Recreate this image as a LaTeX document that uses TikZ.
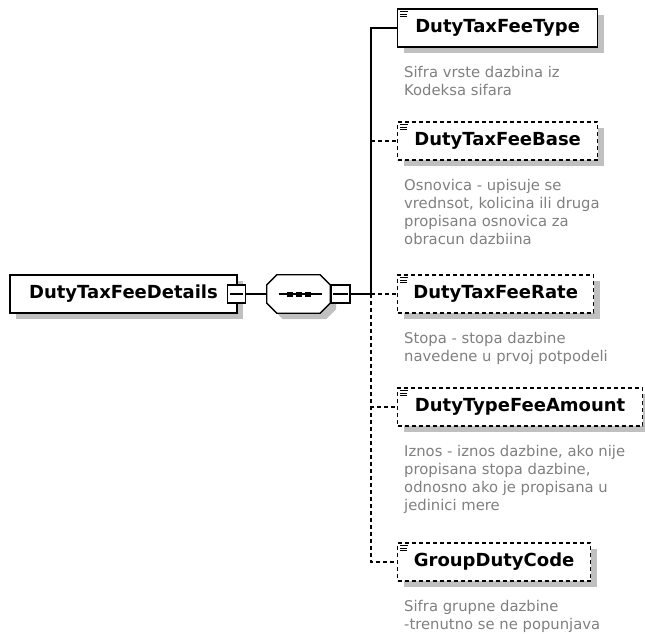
\documentclass[tikz,border=0pt]{standalone}
\usepackage{fontspec}
\setmainfont{DejaVu Sans}
\usetikzlibrary{calc,shadows}
\definecolor{shadowgray}{RGB}{192,192,192}
\definecolor{descgray}{RGB}{128,128,128}
\tikzset{
 myshadow/.style={drop shadow={shadow xshift=6pt, shadow yshift=-6pt, fill=shadowgray, opacity=1}},
 elbox/.style={draw=black, line width=1.3pt, fill=white, rectangle, inner sep=0pt, minimum height=38,
   font=\fontsize{18}{20}\selectfont\bfseries, myshadow},
 optbox/.style={elbox, dash pattern=on 4pt off 3pt},
 desc/.style={anchor=north west, inner sep=0pt, align=left, text=descgray,
   font=\fontsize{14.8}{18}\selectfont},
 conn/.style={line width=1.3pt},
 optconn/.style={line width=1.3pt, dash pattern=on 4pt off 3pt},
 minusbox/.style={draw, fill=white, line width=1.3pt, minimum width=18, minimum height=18, inner sep=0pt},
 iconline/.style={line width=1pt},
}
\begin{document}
\begin{tikzpicture}[x=1pt,y=-1pt]
\useasboundingbox (0,0) rectangle (645,634);

% root
\node[elbox, minimum width=227] (root) at (123.5,294) {DutyTaxFeeDetails};
\node[minusbox] (m1) at (236.5,294) {};
\draw[conn] ($(m1.west)+(3,0)$) -- ($(m1.east)+(-3,0)$);

% sequence compositor
\node[minimum width=63, minimum height=38, inner sep=0pt] (seq) at (298.5,294) {};
\draw[conn, fill=white, myshadow]
  ($(seq.north west)+(10,0)$) -- ($(seq.north east)+(-10,0)$) -- ($(seq.north east)+(0,10)$)
  -- ($(seq.south east)+(0,-10)$) -- ($(seq.south east)+(-10,0)$) -- ($(seq.south west)+(10,0)$)
  -- ($(seq.south west)+(0,-10)$) -- ($(seq.north west)+(0,10)$) -- cycle;
\draw[conn] ($(seq.center)+(-20,0)$) -- ($(seq.center)+(23,0)$);
\foreach \dx in {-8.5,0.5,9.5}
  \fill ($(seq.center)+(\dx-3,-2.5)$) rectangle ($(seq.center)+(\dx+3,2.5)$);
\node[minusbox, minimum width=19] (m2) at (340.5,294) {};
\draw[conn] ($(m2.west)+(3,0)$) -- ($(m2.east)+(-3,0)$);

\draw[conn] (m1.east) -- (seq.west);
\coordinate (j) at (371,294);
\draw[conn] (m2.east) -- (j);

% children
\node[elbox, minimum width=200, anchor=west] (c1) at (397,28) {DutyTaxFeeType};
\node[optbox, minimum width=200, anchor=west] (c2) at (397,141) {DutyTaxFeeBase};
\node[optbox, minimum width=196, anchor=west] (c3) at (397,294) {DutyTaxFeeRate};
\node[optbox, minimum width=245, anchor=west] (c4) at (397,407) {DutyTypeFeeAmount};
\node[optbox, minimum width=193, anchor=west] (c5) at (397,562) {GroupDutyCode};

\foreach \n in {c1,c2,c3,c4,c5}{
  \draw[iconline] ($(\n.north west)+(3,3.5)$) -- ++(8,0);
  \draw[iconline] ($(\n.north west)+(3,6)$) -- ++(7,0);
  \draw[iconline] ($(\n.north west)+(3,8.5)$) -- ++(7,0);
}

% connectors
\draw[conn] (j) |- (c1.west);
\draw[optconn] (c2.west -| j) -- (c2.west);
\draw[optconn] (j) -- (c3.west);
\draw[optconn] (j) |- (c4.west);
\draw[optconn] (j) |- (c5.west);

% descriptions
\node[desc] (d1) at ($(c1.south west)+(7,18)$) {Sifra vrste dazbina iz\\Kodeksa sifara};
\node[desc] (d2) at ($(c2.south west)+(7,18)$) {Osnovica - upisuje se\\vrednsot, kolicina ili druga\\propisana osnovica za\\obracun dazbiina};
\node[desc] (d3) at ($(c3.south west)+(7,18)$) {Stopa - stopa dazbine\\navedene u prvoj potpodeli};
\node[desc] (d4) at ($(c4.south west)+(7,18)$) {Iznos - iznos dazbine, ako nije\\propisana stopa dazbine,\\odnosno ako je propisana u\\jedinici mere};
\node[desc] (d5) at ($(c5.south west)+(7,18)$) {Sifra grupne dazbine\\-trenutno se ne popunjava};
\end{tikzpicture}
\end{document}
